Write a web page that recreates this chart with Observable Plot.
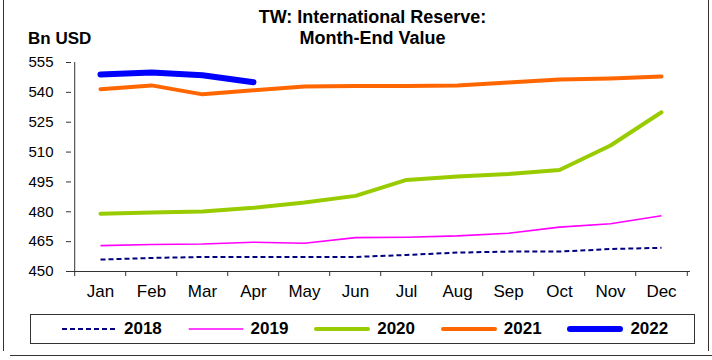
<!DOCTYPE html>
<html>
<head>
<meta charset="utf-8">
<script src="https://cdn.jsdelivr.net/npm/d3@7"></script>
<script src="https://cdn.jsdelivr.net/npm/@observablehq/plot@0.6"></script>
<style>
  html, body { margin: 0; padding: 0; background: #fff; }
  body { font-family: "Liberation Sans", Arial, sans-serif; }
  #wrap { position: relative; width: 712px; height: 360px; overflow: hidden; }
  #frameBox { position: absolute; left: 3px; top: -1px; width: 704px; height: 352px;
              border-left: 1px solid #333; border-right: 1px solid #333; }
  #bottomLine { position: absolute; left: 10px; top: 355px; width: 702px; height: 0;
                border-top: 1px solid #333; }
  #title { position: absolute; left: 0; top: 7px; width: 745px; text-align: center;
           font-weight: bold; font-size: 18px; color: #000; }
  #title div { height: 20.5px; line-height: 20.5px; }
  #unit { position: absolute; left: 28px; top: 29px; font-weight: bold; font-size: 17px; color: #000; }
  #chart { position: absolute; left: 0; top: 0; }
  #legend { position: absolute; left: 30px; top: 314px; width: 665px; height: 30px;
            border: 1px solid #333; display: flex; align-items: center; padding-left: 30px;
            box-sizing: border-box; }
  .item { display: flex; align-items: center; width: 129px; }
  .item span { font-weight: bold; font-size: 17px; margin-left: 7px; color: #000; }
</style>
</head>
<body>
<div id="wrap">
  <div id="frameBox"></div>
  <div id="bottomLine"></div>
  <div id="chart"></div>
  <div id="title"><div>TW: International Reserve:</div><div>Month-End Value</div></div>
  <div id="unit">Bn USD</div>
  <div id="legend"></div>
</div>
<script>
const months = ["Jan","Feb","Mar","Apr","May","Jun","Jul","Aug","Sep","Oct","Nov","Dec"];
const yTicks = [450, 465, 480, 495, 510, 525, 540, 555];
const years = ["2018","2019","2020","2021","2022"];
const v2018 = [456.0, 456.8, 457.3, 457.3, 457.3, 457.3, 458.3, 459.5, 460.0, 460.0, 461.3, 461.9];
const v2019 = [463.0, 463.6, 463.8, 464.7, 464.2, 467.0, 467.2, 467.9, 469.2, 472.3, 474.0, 478.0];
const v2020 = [479.0, 479.6, 480.2, 482.0, 484.7, 488.0, 496.0, 497.7, 499.0, 501.0, 513.3, 530.0];
const v2021 = [541.6, 543.5, 539.0, 541.0, 543.0, 543.2, 543.2, 543.5, 545.0, 546.5, 547.0, 548.0];
const v2022 = [549.0, 550.0, 548.6, 545.1];
const seriesValues = [v2018, v2019, v2020, v2021, v2022];

const colors = ["#000080", "#FF00FF", "#99CC00", "#FF6600", "#0000FF"];
const widths = [2, 1.6, 4, 4, 6];
const dashes = ["5,3", null, null, null, null];

const W = 712, mL = 71, mR = 22, mT = 62, H = 305, mB = 34;
const step = (W - mL - mR) / months.length;

const lineMarks = seriesValues.map((vals, i) =>
  Plot.line(vals.map((v, j) => ({month: months[j], value: v})), {
    x: "month", y: "value",
    stroke: colors[i], strokeWidth: widths[i],
    strokeDasharray: dashes[i] || undefined,
    strokeLinecap: i >= 2 ? "round" : "butt",
    strokeLinejoin: "round"
  })
);

const plot = Plot.plot({
  width: W, height: H,
  marginLeft: mL, marginRight: mR, marginTop: mT, marginBottom: mB,
  style: {background: "transparent", fontFamily: "'Liberation Sans', Arial, sans-serif", color: "#000"},
  x: {type: "point", domain: months, padding: 0.5},
  y: {domain: [450, 555]},
  marks: [
    Plot.axisY({ticks: yTicks, tickSize: 5, tickPadding: 13, fontSize: 15, label: null, stroke: "#333", fill: "#000"}),
    Plot.axisX({tickSize: 0, tickPadding: 13, fontSize: 17, label: null, fill: "#000"}),
    Plot.ruleY([450], {stroke: "#333"}),
    Plot.ruleX([months[0]], {dx: -step / 2, stroke: "#333"}),
    Plot.ruleX(months, {x: d => d, y1: 450, y2: 450, insetBottom: -5, dx: -step / 2, stroke: "#333"}),
    Plot.ruleX([months[months.length - 1]], {x: d => d, y1: 450, y2: 450, insetBottom: -5, dx: step / 2, stroke: "#333"}),
    ...lineMarks
  ]
});
document.getElementById("chart").appendChild(plot);

const legend = document.getElementById("legend");
years.forEach((yr, i) => {
  const item = document.createElement("div");
  item.className = "item";
  const sw = widths[i];
  item.innerHTML = `<svg width="56" height="10"><line x1="${sw/2}" x2="${56 - sw/2}" y1="5" y2="5" stroke="${colors[i]}" stroke-width="${sw}" ${dashes[i] ? `stroke-dasharray="${dashes[i]}"` : ""} stroke-linecap="${i >= 2 ? "round" : "butt"}"/></svg><span>${yr}</span>`;
  legend.appendChild(item);
});
</script>
</body>
</html>
